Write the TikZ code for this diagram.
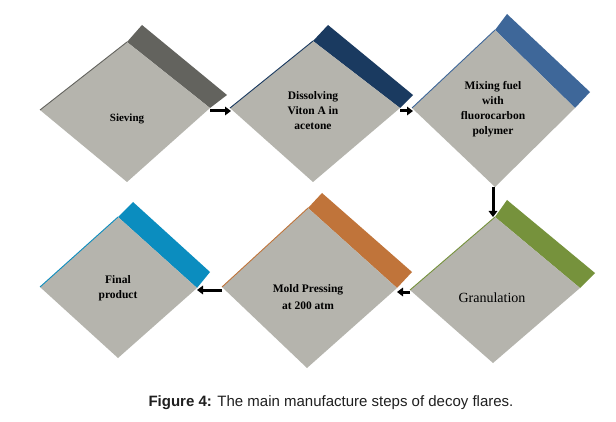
\documentclass[tikz,border=0pt]{standalone}
\usepackage{fontspec}
\setmainfont{Liberation Serif}
\newfontfamily\capfont{Liberation Sans}
\usetikzlibrary{arrows.meta,calc}
\definecolor{dgray}{HTML}{B5B4AD}
\definecolor{cSiev}{HTML}{63635E}
\definecolor{cDiss}{HTML}{1A3A60}
\definecolor{cMix}{HTML}{3E6799}
\definecolor{cGran}{HTML}{76923C}
\definecolor{cMold}{HTML}{C0743A}
\definecolor{cFin}{HTML}{0B8DBF}
% #1 name, #2 left, #3 top, #4 right, #5 bottom, #6 band outer top, #7 band outer right, #8 colour
\newcommand{\dstep}[8]{%
  \coordinate (#1-l) at #2; \coordinate (#1-t) at #3;
  \coordinate (#1-r) at #4; \coordinate (#1-b) at #5;
  \coordinate (#1-ot) at #6; \coordinate (#1-or) at #7;
  \fill[#8] (#1-t) -- (#1-ot) -- (#1-or) -- (#1-r) -- cycle;
  \fill[dgray] (#1-l) -- (#1-t) -- (#1-r) -- (#1-b) -- cycle;
  \draw[#8, line width=0.9pt, line join=round] (#1-l) -- (#1-t);
}
\begin{document}
\begin{tikzpicture}[x=1pt,y=-1pt,
  lbl/.style={align=center, font=\bfseries\fontsize{11.5}{15}\selectfont, text=black},
  flow/.style={line width=3pt, -{Triangle[length=6pt,width=8.5pt]}}]
\useasboundingbox (0,0) rectangle (616,422);
\fill[white] (0,0) rectangle (616,422);
\dstep{s}{(40,110)}{(127,42)}{(210,108)}{(127,182)}{(142,25)}{(227,95)}{cSiev}
\dstep{d}{(230,108)}{(313,41)}{(400,108)}{(313,182)}{(328,25)}{(413,95)}{cDiss}
\dstep{x}{(412,108)}{(495,30)}{(575,108)}{(495,187)}{(507,14)}{(590,92)}{cMix}
\dstep{g}{(410,290)}{(495,217)}{(580,288)}{(493,363)}{(507,200)}{(595,273)}{cGran}
\dstep{m}{(222,287)}{(308,208)}{(397,288)}{(307,368)}{(322,193)}{(412,272)}{cMold}
\dstep{f}{(40,287)}{(118,217)}{(197,288)}{(118,358)}{(133,202)}{(210,272)}{cFin}

\node[lbl, font=\bfseries\fontsize{11}{13}\selectfont] (ts) at (127,119) {Sieving};
\node[lbl] (td) at (313,111) {Dissolving\\Viton A in\\acetone};
\node[lbl] (tx) at (493,109) {Mixing fuel\\with\\fluorocarbon\\polymer};
\node[lbl, font=\fontsize{14}{16}\selectfont] (tg) at (492,298) {Granulation};
\node[lbl, font=\bfseries\fontsize{11.5}{17.5}\selectfont] (tm) at (308,297) {Mold Pressing\\at 200 atm};
\node[lbl, font=\bfseries\fontsize{11.5}{15}\selectfont] (tf) at (118,288) {Final\\product};

\draw[flow] ($(s-r)+(0,3)$) -- ($(d-l)+(1,3)$);
\draw[flow] ($(d-r)+(0,3)$) -- ($(x-l)+(1,3)$);
\draw[flow] ($(x-b)+(-2,0)$) -- ($(g-t)+(-2,0)$);
\draw[flow] ($(g-l)+(0,2)$) -- ($(m-r)+(0,4)$);
\draw[flow] ($(m-l)+(0,3)$) -- ($(f-r)+(0,2)$);

\node[font=\capfont\fontsize{15}{18}\selectfont, text={black!88}] (cap) at (331,403)
  {\textbf{Figure 4:} The main manufacture steps of decoy flares.};
\end{tikzpicture}
\end{document}
